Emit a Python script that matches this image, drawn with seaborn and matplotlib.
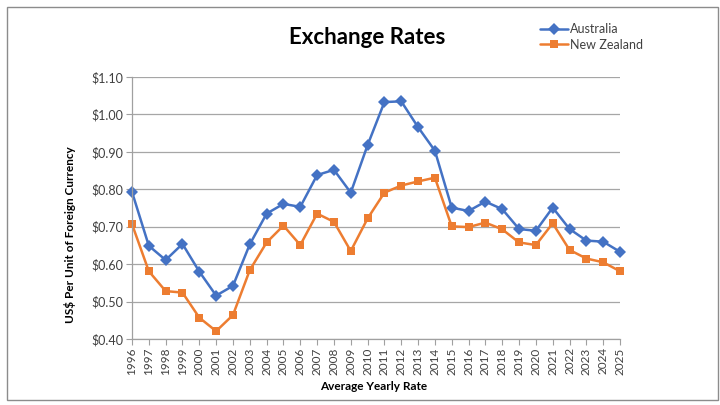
import matplotlib
matplotlib.use("Agg")
import matplotlib.pyplot as plt
import seaborn as sns
import pandas as pd
from matplotlib.patches import Rectangle
from matplotlib.ticker import FuncFormatter

years = list(range(1996, 2026))
australia = [0.793, 0.649, 0.611, 0.654, 0.580, 0.516, 0.542, 0.653, 0.735, 0.761,
             0.753, 0.838, 0.852, 0.791, 0.918, 1.033, 1.035, 0.966, 0.903, 0.751,
             0.742, 0.767, 0.747, 0.694, 0.689, 0.751, 0.694, 0.663, 0.660, 0.633]
new_zealand = [0.707, 0.581, 0.528, 0.524, 0.457, 0.421, 0.464, 0.584, 0.658, 0.703,
               0.651, 0.735, 0.713, 0.635, 0.722, 0.791, 0.810, 0.821, 0.831, 0.701,
               0.699, 0.711, 0.693, 0.658, 0.651, 0.709, 0.638, 0.615, 0.605, 0.581]
series_names = ["Australia", "New Zealand"]
y_ticks = [0.40, 0.50, 0.60, 0.70, 0.80, 0.90, 1.00, 1.10]

df = pd.DataFrame({
    "Year": years * 2,
    "Rate": australia + new_zealand,
    "Country": [series_names[0]] * len(years) + [series_names[1]] * len(years),
})

sns.set_theme(style="white")
plt.rcParams["font.family"] = ["Lato", "DejaVu Sans"]

fig = plt.figure(figsize=(7.2, 4.05), dpi=100)
fig.patch.set_facecolor("white")
ax = fig.add_axes([132 / 720, 1 - 339 / 405, (620 - 132) / 720, (339 - 77) / 405])

palette = {"Australia": "#4472C4", "New Zealand": "#ED7D31"}
markers = {"Australia": "D", "New Zealand": "s"}
sns.lineplot(data=df, x="Year", y="Rate", hue="Country", style="Country",
             palette=palette, markers=markers, dashes=False, linewidth=1.8,
             markersize=6, markeredgewidth=0, ax=ax)
for ln in ax.lines:
    ln.set_clip_on(False)

ax.set_xlim(1996, 2025)
ax.set_ylim(0.40, 1.10)
ax.set_yticks(y_ticks)
ax.yaxis.set_major_formatter(FuncFormatter(lambda v, p: f"${v:.2f}"))
ax.set_xticks(years)
ax.set_xticklabels([str(y) for y in years], rotation=90, fontsize=8.5, color="#404040")
ax.tick_params(axis="y", labelsize=9, labelcolor="#404040")
ax.tick_params(axis="both", which="major", length=4, width=0.8, color="#a0a0a0",
               direction="out", bottom=True, left=True, pad=2)
ax.grid(axis="y", color="#a6a6a6", linewidth=0.9)
ax.grid(axis="x", visible=False)
for s in ["top", "right"]:
    ax.spines[s].set_visible(False)
for s in ["left", "bottom"]:
    ax.spines[s].set_color("#a0a0a0")
    ax.spines[s].set_linewidth(0.9)
ax.set_xlabel("")
ax.set_ylabel("")

leg = ax.legend(loc="upper left", bbox_to_anchor=(535 / 720, 1 - 18 / 405),
                bbox_transform=fig.transFigure, frameon=False, fontsize=9,
                handlelength=2.2, handletextpad=0.2, labelspacing=0.3,
                borderaxespad=0)
for t in leg.get_texts():
    t.set_color("#404040")

fig.text(367 / 720, 1 - 38 / 405, "Exchange Rates", ha="center", va="center",
         fontsize=16, fontweight="bold", color="black")
fig.text(374 / 720, 1 - 387 / 405, "Average Yearly Rate", ha="center", va="center",
         fontsize=8.5, fontweight="bold", color="black")
fig.text(70 / 720, 1 - 235 / 405, "US$ Per Unit of Foreign Currency", ha="center",
         va="center", rotation=90, fontsize=8.5, fontweight="bold", color="black")

fig.add_artist(Rectangle((7 / 720, 1 - 400 / 405), (718 - 7) / 720, (400 - 7) / 405,
                         transform=fig.transFigure, fill=False, edgecolor="#8c8c8c",
                         linewidth=1.0))

fig.savefig("out.png", dpi=100, facecolor="white")
